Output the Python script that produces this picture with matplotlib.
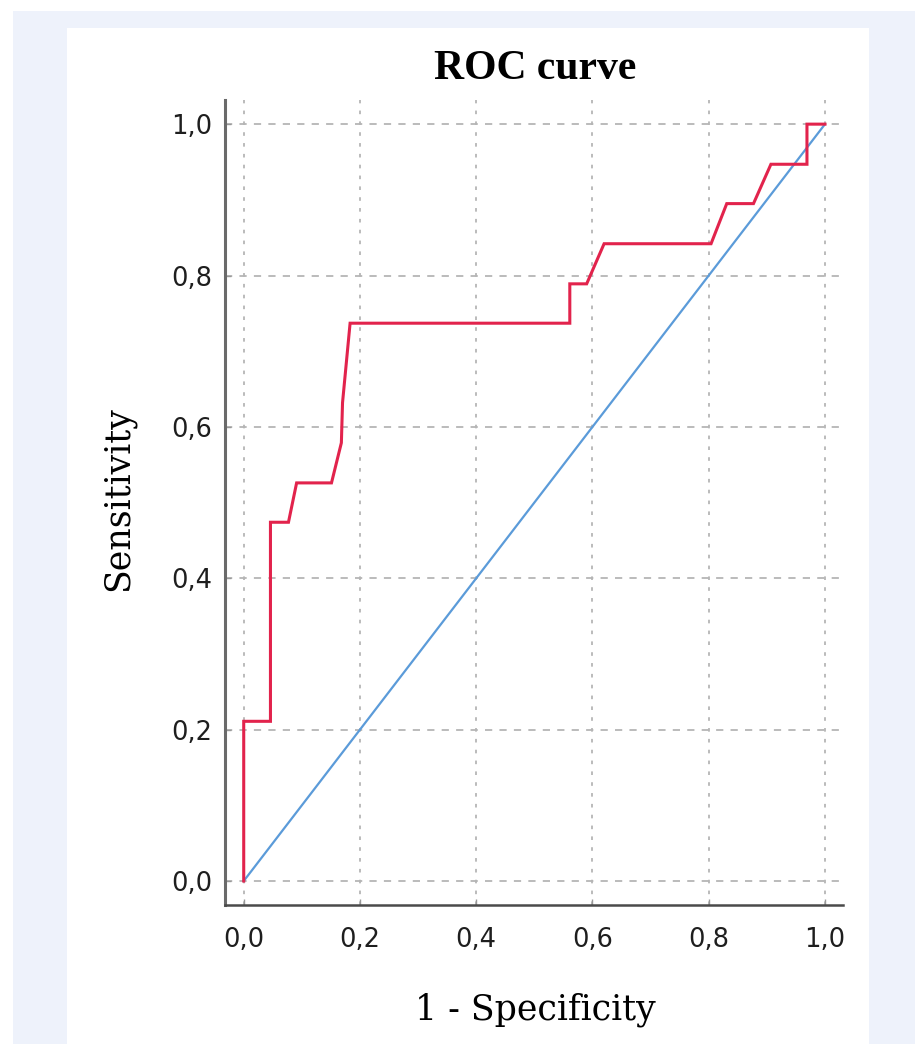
import matplotlib
matplotlib.use("Agg")
import matplotlib.pyplot as plt
from matplotlib.patches import Rectangle

# Data
fpr = [0.0, 0.0, 0.046, 0.046, 0.077, 0.091, 0.151, 0.168, 0.170, 0.183,
       0.561, 0.561, 0.590, 0.620, 0.804, 0.831, 0.877, 0.907, 0.969, 0.969, 1.0]
tpr = [0.0, 0.211, 0.211, 0.474, 0.474, 0.526, 0.526, 0.579, 0.632, 0.737,
       0.737, 0.789, 0.789, 0.842, 0.842, 0.895, 0.895, 0.947, 0.947, 1.0, 1.0]
ref_x = [0.0, 1.0]
ref_y = [0.0, 1.0]
ticks = [0.0, 0.2, 0.4, 0.6, 0.8, 1.0]
tick_labels = ["0,0", "0,2", "0,4", "0,6", "0,8", "1,0"]

W, H = 915, 1045
fig = plt.figure(figsize=(W / 100, H / 100), dpi=100, facecolor="white")

# background panels
fig.patches.append(Rectangle((13 / W, 1 / H), 1 - 13 / W, (1044 - 11) / H,
                             transform=fig.transFigure, facecolor="#eef2fb",
                             edgecolor="none", zorder=-10))
fig.patches.append(Rectangle((67 / W, 0), (869 - 67) / W, (1045 - 28) / H,
                             transform=fig.transFigure, facecolor="white",
                             edgecolor="none", zorder=-9))

ax = fig.add_axes([225 / W, 1 - 905 / H, (843 - 225) / W, (905 - 100) / H])
ax.patch.set_alpha(0)

ax.plot(ref_x, ref_y, color="#5b9bd9", lw=1.6, zorder=3)
ax.plot(fpr, tpr, color="#e2234c", lw=2.2, zorder=4, solid_joinstyle="miter")

ax.set_xlim(-0.0322, 1.031)
ax.set_ylim(-0.0317, 1.0319)

ax.set_xticks(ticks)
ax.set_xticklabels(tick_labels)
ax.set_yticks(ticks)
ax.set_yticklabels(tick_labels)

for lbl in ax.get_xticklabels() + ax.get_yticklabels():
    lbl.set_fontfamily("DejaVu Sans")
    lbl.set_fontsize(18.5)
    lbl.set_color("#1e1e1e")

ax.tick_params(axis="both", direction="in", length=4, color="#999999", width=1)
ax.tick_params(axis="x", pad=16)
ax.tick_params(axis="y", pad=9)

# gridlines
for t in ticks:
    ax.axhline(t, color="#b5b5b5", lw=1.3, dashes=(4, 4), zorder=1)
    ax.axvline(t, color="#b5b5b5", lw=1.3, dashes=(2, 4), zorder=1)

for s in ["top", "right"]:
    ax.spines[s].set_visible(False)
ax.spines["left"].set_color("#6a6a6a")
ax.spines["left"].set_linewidth(2.2)
ax.spines["bottom"].set_color("#4a4a4a")
ax.spines["bottom"].set_linewidth(1.8)

fig.text(535 / W, 1 - 69 / H, "ROC curve", ha="center", va="center",
         fontfamily="Liberation Serif", fontweight="bold", fontsize=30)
fig.text(535 / W, 1 - 1010 / H, "1 - Specificity", ha="center", va="center",
         fontfamily="DejaVu Serif", fontsize=25)
fig.text(118 / W, 1 - 499 / H, "Sensitivity", ha="center", va="center",
         rotation=90, fontfamily="DejaVu Serif", fontsize=25)

fig.savefig("out.png", dpi=100, facecolor="white")
